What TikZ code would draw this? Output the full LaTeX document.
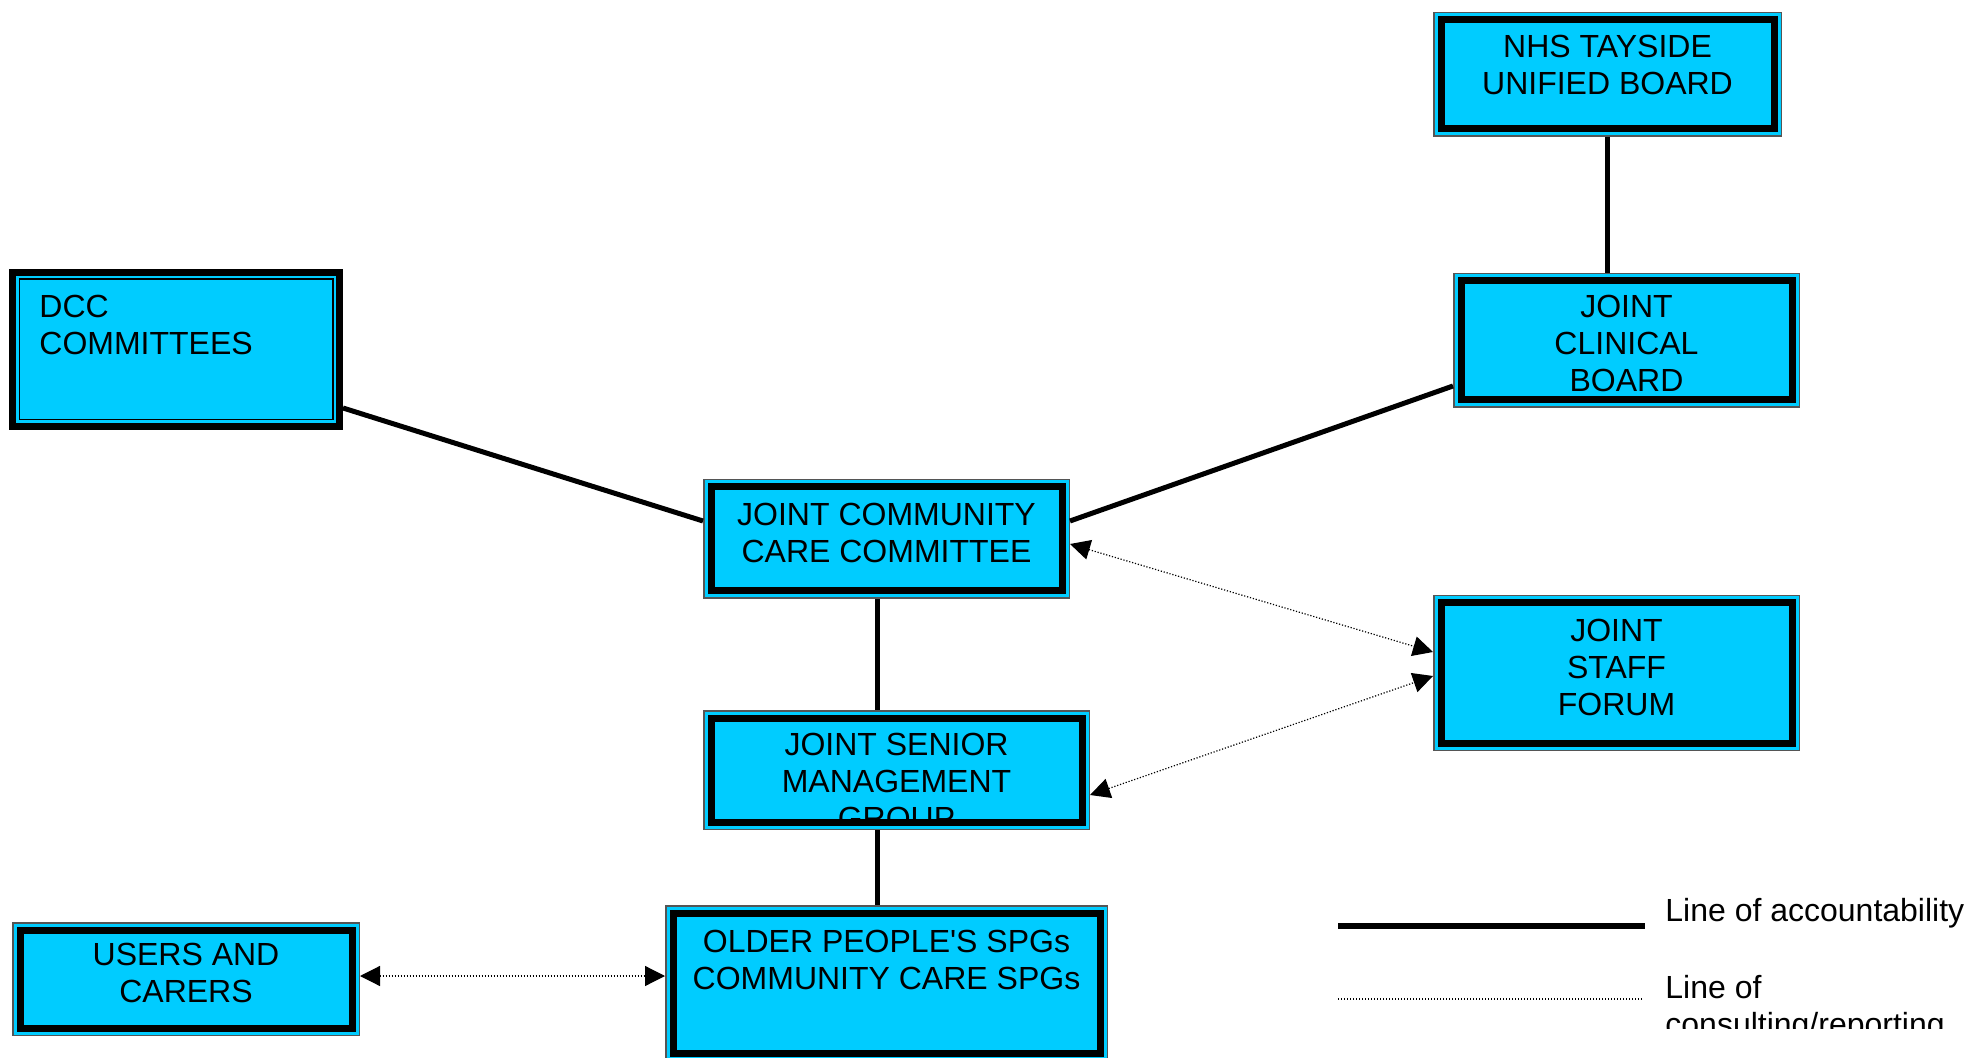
\documentclass[tikz,border=0pt]{standalone}
\usepackage{fontspec}
\setmainfont{Liberation Sans}[Ligatures=TeXOff]
\usetikzlibrary{arrows.meta, positioning}
\definecolor{cianjunta}{HTML}{00CCFF}
\definecolor{grisborde}{HTML}{555555}
\colorlet{colCaja}{cianjunta}
\colorlet{colBorde}{grisborde}
\colorlet{colLinea}{black}
\tikzset{
  cajaBase/.style={
    rectangle, fill=colCaja, draw=colLinea, line width=3.5pt,
    preaction={draw=colBorde, line width=8pt},
    preaction={draw=colCaja, line width=6.5pt},
    inner sep=0pt, outer sep=4pt
  },
  cajaInversa/.style={
    rectangle, fill=colCaja, draw=colLinea, line width=0.75pt,
    preaction={draw=colLinea, line width=10.25pt},
    preaction={draw=colCaja, line width=3.25pt},
    inner sep=0pt, outer sep=5.125pt
  },
  textoCaja/.style={font=\fontsize{16}{18.5}\selectfont, align=center,
    inner sep=0pt, anchor=north},
  textoLeyenda/.style={font=\fontsize{16}{18.5}\selectfont, align=left,
    inner sep=0pt, anchor=north west},
  lineaMando/.style={line width=2.5pt, colLinea},
  lineaPunteada/.style={line width=0.6pt, dash pattern=on 0.6pt off 0.9pt, colLinea},
  lineaConsulta/.style={lineaPunteada,
    {Triangle[length=10pt,width=10pt]}-{Triangle[length=10pt,width=10pt]}},
}
\begin{document}
\begin{tikzpicture}[x=0.5pt, y=-0.5pt]
  \useasboundingbox (0,0) rectangle (1970,1058);

  % Cajas
  \node[cajaBase, minimum width=166.5pt, minimum height=54.5pt] (nhs) at (1607.5,74.5) {};
  \node[cajaInversa, minimum width=156.75pt, minimum height=70.25pt] (dcc) at (176,349.5) {};
  \node[cajaBase, minimum width=165.5pt, minimum height=59.5pt] (jcb) at (1626.5,340.5) {};
  \node[cajaBase, minimum width=175.5pt, minimum height=52pt] (jccc) at (886.5,539) {};
  \node[cajaBase, minimum width=175.5pt, minimum height=70pt] (jsf) at (1616.5,673) {};
  \node[cajaBase, minimum width=185.5pt, minimum height=52pt] (jsmg) at (896.5,770) {};
  \node[cajaBase, minimum width=166pt, minimum height=49pt] (users) at (186,979) {};
  \node[cajaBase, minimum width=213.5pt, minimum height=70.25pt] (spg) at (886.5,983.25) {};

  % Textos
  \node[textoCaja, below=11.5pt of nhs.north] (nhsT) {NHS TAYSIDE\\UNIFIED BOARD};
  \node[textoCaja, align=left, anchor=north west, below right=13pt and 15pt of dcc.north west] (dccT) {DCC\\COMMITTEES};
  \node[textoCaja, below=11pt of jcb.north] (jcbT) {JOINT\\CLINICAL\\BOARD};
  \node[textoCaja, below=12pt of jccc.north] (jcccT) {JOINT COMMUNITY\\CARE COMMITTEE};
  \node[textoCaja, below=12pt of jsf.north] (jsfT) {JOINT\\STAFF\\FORUM};
  \begin{scope}
    \clip ([shift={(5.75pt,5.75pt)}]jsmg.south west) rectangle ([shift={(-5.75pt,-5.75pt)}]jsmg.north east);
    \node[textoCaja, below=11.5pt of jsmg.north] (jsmgT) {JOINT SENIOR\\MANAGEMENT\\GROUP};
  \end{scope}
  \node[textoCaja, below=10.5pt of users.north] (usersT) {USERS AND\\CARERS};
  \node[textoCaja, below=12.5pt of spg.north] (spgT) {OLDER PEOPLE'S SPGs\\COMMUNITY CARE SPGs};

  % Lineas de mando
  \draw[lineaMando] (nhs.south) -- (nhs.south |- jcb.north);
  \draw[lineaMando] ([yshift=-29.25pt]dcc.east) -- ([yshift=9pt]jccc.west);
  \draw[lineaMando] ([yshift=-22.75pt]jcb.west) -- ([yshift=9pt]jccc.east);
  \draw[lineaMando] ([xshift=-9.75pt]jsmg.north) -- ([xshift=-9.75pt]jsmg.north |- jccc.south);
  \draw[lineaMando] ([xshift=-9.75pt]jsmg.south) -- ([xshift=-9.75pt]jsmg.south |- spg.north);

  % Consulta / informes
  \draw[lineaConsulta] ([yshift=-2.5pt]jccc.east) -- ([yshift=10.5pt]jsf.west);
  \draw[lineaConsulta] ([yshift=-12.5pt]jsmg.east) -- ([yshift=-1.5pt]jsf.west);
  \draw[lineaConsulta] ([yshift=1.5pt]users.east) -- ([yshift=1.5pt]users.east -| spg.west);

  % Leyenda
  \coordinate (leyA1) at (1338,926); \coordinate (leyA2) at (1645,926);
  \coordinate (leyB1) at (1338,999); \coordinate (leyB2) at (1643,999);
  \draw[lineaMando, line width=3pt] (leyA1) -- (leyA2);
  \draw[lineaPunteada] (leyB1) -- (leyB2);
  \node[textoLeyenda] (leyA) at (1665,898) {Line of accountability};
  \begin{scope}
    \clip (1600,960) rectangle (1970,1028);
    \node[textoLeyenda] (leyB) at (1665,975) {Line of\\consulting/reporting};
  \end{scope}
\end{tikzpicture}
\end{document}
